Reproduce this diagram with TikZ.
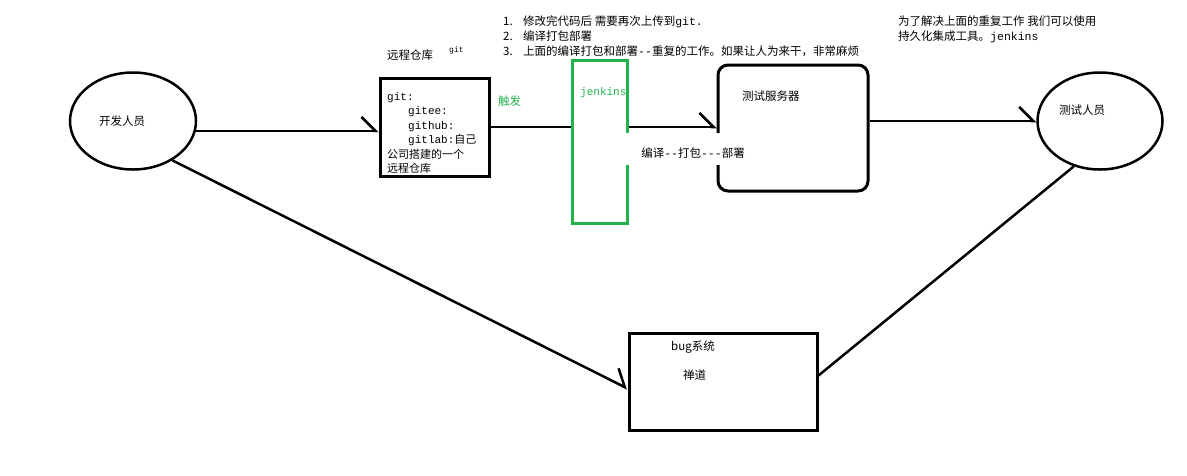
\documentclass[tikz,border=0pt]{standalone}
\usepackage{fontspec}
\setmainfont{Noto Sans CJK SC}
\setmonofont{Liberation Mono}
\usetikzlibrary{arrows.meta,shapes.geometric}
\definecolor{paintgreen}{HTML}{22B14C}
\tikzset{
  person/.style={draw, ellipse, line width=2.5pt, minimum width=125pt, minimum height=97pt},
  box/.style={draw, rectangle, line width=3pt, inner sep=0pt},
  txt/.style={inner sep=0pt, font=\fontsize{11.5}{15}\selectfont},
  code/.style={inner sep=0pt, font=\fontsize{11}{14.5}\selectfont\ttfamily},
  arrow/.style={-{Straight Barb[left,length=14pt,width=28pt]}, line width=2.5pt},
  link/.style={line width=2.5pt}
}
\newcommand{\stepno}[1]{\makebox[20pt][l]{#1}}

\begin{document}
\begin{tikzpicture}[x=1pt,y=-1pt]
  \useasboundingbox (0,0) rectangle (1187,475);

  % people
  \node[person, minimum width=126pt, label={[txt,xshift=-11pt]center:开发人员}] (dev) at (133,121) {};
  \node[person, label={[txt,xshift=-18pt,yshift=11pt]center:测试人员}] (tester) at (1100,121) {};

  % remote repository
  \node[box, minimum width=109pt, minimum height=98pt] (repo) at (434.5,127) {};
  \node[txt, anchor=base west] (repotitle) at (387,59) {远程仓库};
  \node[code, font=\fontsize{8}{8}\selectfont\ttfamily, anchor=base west] (repogit) at (449,52) {git};
  \node[code, anchor=north west, align=left] (repotext) at (387,92) {
    git:\\
    \hspace*{21pt}gitee:\\
    \hspace*{21pt}github:\\
    \hspace*{21pt}gitlab:{\rmfamily 自己}\\
    {\rmfamily 公司搭建的一个}\\
    {\rmfamily 远程仓库}};

  % jenkins
  \node[box, draw=paintgreen, minimum width=55pt, minimum height=163pt] (jenkins) at (599.5,141.5) {};
  \node[code, text=paintgreen, anchor=base west] (jenkinsname) at (580,95) {jenkins};
  \node[txt, text=paintgreen, anchor=base west] (trigger) at (498,105) {触发};

  % test server
  \node[box, rounded corners=10pt, minimum width=150pt, minimum height=126pt] (server) at (793,128) {};
  \node[txt, anchor=base west] (servername) at (742,100) {测试服务器};

  % bug tracker
  \node[box, minimum width=188pt, minimum height=97pt] (bug) at (723,381.5) {};
  \node[txt, anchor=base west] (bugname) at (671,350) {bug系统};
  \node[txt, anchor=base west] (bugtool) at (683,379) {禅道};

  % notes
  \node[txt, anchor=north west, align=left] (steps) at (503,16) {
    \stepno{1.}修改完代码后 需要再次上传到{\ttfamily git.}\\
    \stepno{2.}编译打包部署\\
    \stepno{3.}上面的编译打包和部署{\ttfamily --}重复的工作。如果让人为来干，非常麻烦};
  \node[txt, anchor=north west, align=left] (idea) at (898,16) {
    为了解决上面的重复工作 我们可以使用\\
    持久化集成工具。{\ttfamily jenkins}};

  % connectors
  \draw[arrow] (dev.-9) -- (dev.-9 -| repo.west);
  \draw[link] (repo.east) -- (repo.east -| jenkins.west);
  \draw[arrow] (repo.east -| jenkins.east) -- (repo.east -| server.west);
  \draw[arrow] (server.east |- tester.west) -- (tester.west);
  \draw[arrow] (dev.-45) -- ([yshift=-7pt]bug.west);
  \draw[link] (tester.-120) -- ([yshift=6pt]bug.east);

  % build label breaks the lines behind it
  \node[txt, fill=white, anchor=base, text height=24pt, text depth=8pt, minimum width=142pt] (build) at (693,157)
    {编译{\ttfamily --}打包{\ttfamily ---}部署};
\end{tikzpicture}
\end{document}
